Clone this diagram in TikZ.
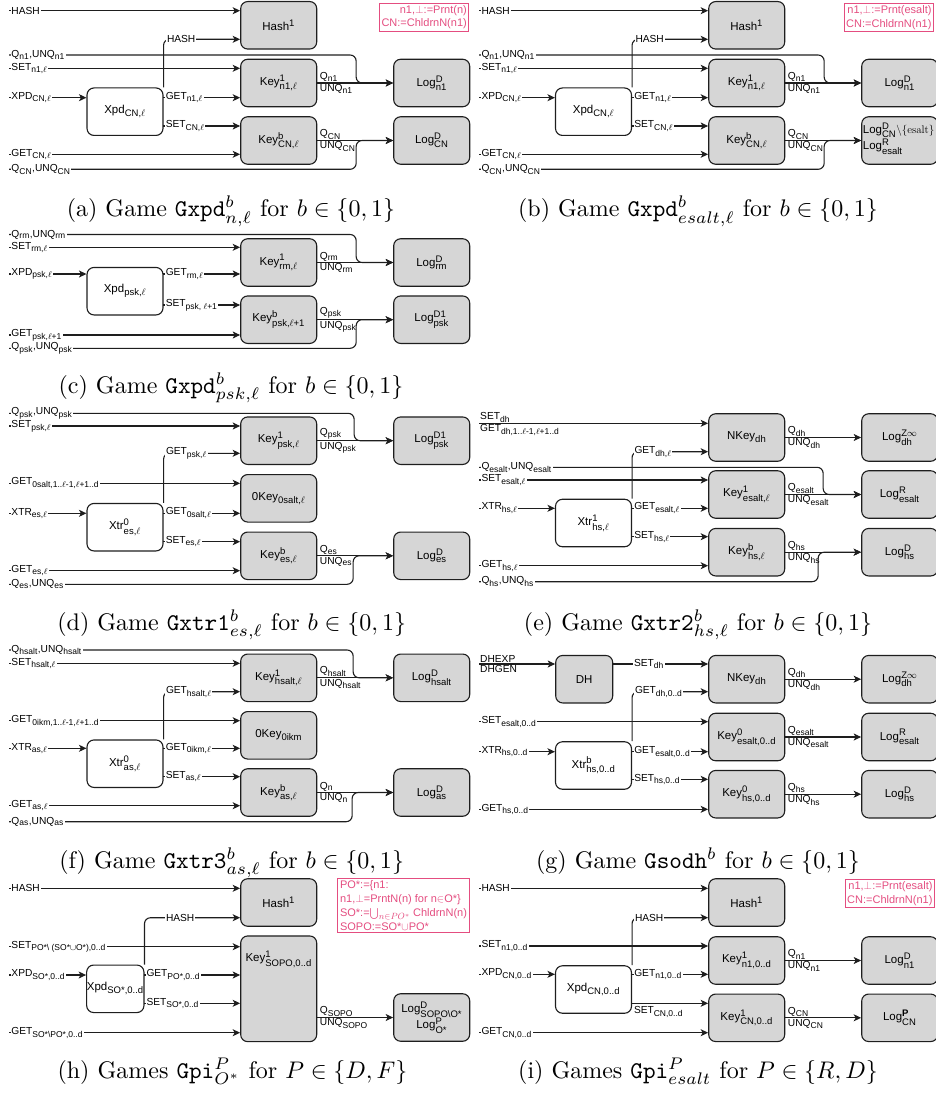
\RequirePackage{fix-cm}
\documentclass[tikz,border=0pt]{standalone}
\usepackage{amsmath}
\usepackage{fontspec}
\newfontfamily\arial{Liberation Sans}
\usetikzlibrary{arrows.meta,calc}

\definecolor{boxgray}{RGB}{214,214,214}
\definecolor{edgecol}{RGB}{30,30,30}
\definecolor{notepink}{RGB}{228,77,128}

% script sizes for the sans labels
\DeclareMathSizes{10.2}{10.2}{8.5}{7}
\DeclareMathSizes{11.5}{11.5}{9.5}{7.5}
\DeclareMathSizes{11}{11}{9}{7}

\newcommand\lblfont{\arial\fontsize{10.2}{11}\selectfont}
\newcommand\boxfont{\arial\fontsize{11.5}{13}\selectfont}
\newcommand\notefont{\arial\fontsize{11}{13.8}\selectfont}
\newcommand\captext[1]{\scalebox{2.4}{\normalsize #1}}

% sans sub/superscripts
\newcommand\lel{$\ell$}
\newcommand\sbx[1]{\ensuremath{_{\text{#1}}}}
\newcommand\spsb[2]{\ensuremath{^{\text{#1}}_{\text{#2}}}}

\tikzset{
  gbox/.style={draw=edgecol, line width=1.1pt, fill=boxgray, rounded corners=7pt,
    minimum width=76pt, minimum height=47.5pt, inner sep=0pt, font=\boxfont},
  wbox/.style={gbox, fill=white},
  conn/.style={draw=edgecol, line width=1.1pt, rounded corners=6pt,
    -{Stealth[length=7.5pt,width=7pt,inset=2pt]}},
  lbl/.style={font=\lblfont, fill=white, inner sep=0.8pt},
  olbl/.style={font=\lblfont, inner sep=1pt},
  notebox/.style={draw=notepink, text=notepink, line width=1pt, font=\notefont, inner sep=2pt},
  captxt/.style={anchor=base, inner sep=0pt}
}

% straight input arrow with a label at its start
\newcommand\inl[5]{%
  \coordinate (#1) at (#2,#3);
  \draw[conn] (#1) -- (#1 -| #4.west);
  \node[lbl, anchor=west] at ([xshift=1.5pt]#1) {#5};}
% input that bends down/up into a log box
\newcommand\curvein[6]{%
  \coordinate (#1) at (#2,#3);
  \draw[conn] (#1) -| ([xshift=-#6pt]#4.west) -- (#4.west);
  \node[lbl, anchor=west] at ([xshift=1.5pt]#1) {#5};}
% output of a box that rises along its right side
\newcommand\upl[6]{%
  \coordinate (#1) at (#3,#4);
  \draw[conn] (#2.north east) |- (#1 -| #5.west);
  \node[lbl, anchor=west] at (#1) {#6};}
% key -> log with labels above and below
\newcommand\outl[4]{%
  \draw[conn] (#1.east) -- (#2.west |- #1.east);
  \node[olbl, anchor=south west] at ([xshift=1.5pt]#1.east) {#3};
  \node[olbl, anchor=north west] at ([xshift=1.5pt]#1.east) {#4};}

\begin{document}
\begin{tikzpicture}[x=1pt,y=-1pt]
\useasboundingbox (0,0) rectangle (935,1094);

% ---------------- (a) ----------------
\node[gbox] (a-hash) at (278.7,25.3) {Hash$^{\text{1}}$};
\node[gbox] (a-key1) at (278.7,83) {Key\spsb{1}{n1,\lel}};
\node[gbox] (a-keyb) at (278.7,140.5) {Key\spsb{b}{CN,\lel}};
\node[gbox] (a-log1) at (431.7,83) {Log\spsb{D}{n1}};
\node[gbox] (a-logc) at (431.7,140.5) {Log\spsb{D}{CN}};
\node[wbox] (a-xpd) at (125,111.7) {Xpd\sbx{CN,\lel}};
\node[notebox, anchor=north east, align=right] (a-note) at (469.3,2.7) {n1,$\perp$:=Prnt(n)\\CN:=ChldrnN(n1)};
\inl{a-i1}{9}{10.7}{a-hash}{HASH}
\upl{a-u1}{a-xpd}{166}{39.3}{a-hash}{HASH}
\curvein{a-i2}{9}{55}{a-log1}{Q\sbx{n1},UNQ\sbx{n1}}{37}
\inl{a-i3}{9}{68.3}{a-key1}{SET\sbx{n1,\lel}}
\inl{a-i4}{9}{97.7}{a-xpd}{XPD\sbx{CN,\lel}}
\inl{a-m1}{163.3}{97.7}{a-key1}{GET\sbx{n1,\lel}}
\inl{a-m2}{163.3}{126}{a-keyb}{SET\sbx{CN,\lel}}
\inl{a-i5}{9}{154.3}{a-keyb}{GET\sbx{CN,\lel}}
\curvein{a-i6}{9}{169.3}{a-logc}{Q\sbx{CN},UNQ\sbx{CN}}{37}
\outl{a-key1}{a-log1}{Q\sbx{n1}}{UNQ\sbx{n1}}
\outl{a-keyb}{a-logc}{Q\sbx{CN}}{UNQ\sbx{CN}}
\node[captxt] (a-cap) at (231,216.5) {\captext{(a) Game \texttt{Gxpd}$^b_{n,\ell}$ for $b\in\{0,1\}$}};

% ---------------- (b) ----------------
\begin{scope}[shift={(468,0)}]
\node[gbox] (b-hash) at (278.7,25.3) {Hash$^{\text{1}}$};
\node[gbox] (b-key1) at (278.7,83) {Key\spsb{1}{n1,\lel}};
\node[gbox] (b-keyb) at (278.7,140.5) {Key\spsb{b}{CN,\lel}};
\node[gbox] (b-log1) at (431.7,83) {Log\spsb{D}{n1}};
\node[gbox] (b-logc) at (431.7,140.5) {};
\node[font=\boxfont, align=left, anchor=west, inner sep=0pt] (b-logct) at ([xshift=1.5pt,yshift=2pt]b-logc.west)
  {Log\spsb{D}{CN}{\normalfont\fontsize{11}{11}\selectfont$\backslash\{\mathrm{esalt}\}$}\\Log\spsb{R}{esalt}};
\node[wbox] (b-xpd) at (125.5,111.7) {Xpd\sbx{CN,\lel}};
\node[notebox, anchor=north east, align=right] (b-note) at (466,3) {n1,$\perp$:=Prnt(esalt)\\CN:=ChldrnN(n1)};
\inl{b-i1}{11}{10.7}{b-hash}{HASH}
\upl{b-u1}{b-xpd}{166.5}{39.3}{b-hash}{HASH}
\curvein{b-i2}{11}{55}{b-log1}{Q\sbx{n1},UNQ\sbx{n1}}{37}
\inl{b-i3}{11}{68.3}{b-key1}{SET\sbx{n1,\lel}}
\inl{b-i4}{11}{97.7}{b-xpd}{XPD\sbx{CN,\lel}}
\inl{b-m1}{163.8}{97.7}{b-key1}{GET\sbx{n1,\lel}}
\inl{b-m2}{163.8}{126}{b-keyb}{SET\sbx{CN,\lel}}
\inl{b-i5}{11}{154.3}{b-keyb}{GET\sbx{CN,\lel}}
\curvein{b-i6}{11}{169.3}{b-logc}{Q\sbx{CN},UNQ\sbx{CN}}{37}
\outl{b-key1}{b-log1}{Q\sbx{n1}}{UNQ\sbx{n1}}
\outl{b-keyb}{b-logc}{Q\sbx{CN}}{UNQ\sbx{CN}}
\node[captxt] (b-cap) at (230,216.5) {\captext{(b) Game \texttt{Gxpd}$^b_{esalt,\ell}$ for $b\in\{0,1\}$}};
\end{scope}

% ---------------- (c) ----------------
\node[gbox] (c-key1) at (278.7,262.5) {Key\spsb{1}{rm,\lel}};
\node[gbox] (c-keyb) at (278.7,319.7) {Key\spsb{b}{psk,\lel+1}};
\node[gbox] (c-log1) at (431.7,262.5) {Log\spsb{D}{rm}};
\node[gbox] (c-logb) at (431.7,319.7) {Log\spsb{D1}{psk}};
\node[wbox] (c-xpd) at (125,291.2) {Xpd\sbx{psk,\lel}};
\curvein{c-i1}{9}{234.5}{c-log1}{Q\sbx{rm},UNQ\sbx{rm}}{37}
\inl{c-i2}{9}{247.3}{c-key1}{SET\sbx{rm,\lel}}
\inl{c-i3}{9}{274}{c-xpd}{XPD\sbx{psk,\lel}}
\inl{c-m1}{163.3}{274}{c-key1}{GET\sbx{rm,\lel}}
\inl{c-m2}{163.3}{305}{c-keyb}{SET\sbx{psk, \lel+1}}
\inl{c-i4}{9}{335}{c-keyb}{GET\sbx{psk,\lel+1}}
\curvein{c-i5}{9}{348.3}{c-logb}{Q\sbx{psk},UNQ\sbx{psk}}{37}
\outl{c-key1}{c-log1}{Q\sbx{rm}}{UNQ\sbx{rm}}
\outl{c-keyb}{c-logb}{Q\sbx{psk}}{UNQ\sbx{psk}}
\node[captxt] (c-cap) at (231,393) {\captext{(c) Game \texttt{Gxpd}$^b_{psk,\ell}$ for $b\in\{0,1\}$}};

% ---------------- (d) ----------------
\node[gbox] (d-key1) at (278.7,440.7) {Key\spsb{1}{psk,\lel}};
\node[gbox] (d-0key) at (278.7,498.3) {0Key\sbx{0salt,\lel}};
\node[gbox] (d-keyb) at (278.7,555.8) {Key\spsb{b}{es,\lel}};
\node[gbox] (d-log1) at (431.7,440.7) {Log\spsb{D1}{psk}};
\node[gbox] (d-logb) at (431.7,555.8) {Log\spsb{D}{es}};
\node[wbox] (d-xtr) at (125,527.2) {Xtr\spsb{0}{es,\lel}};
\curvein{d-i1}{9}{413.3}{d-log1}{Q\sbx{psk},UNQ\sbx{psk}}{39}
\inl{d-i2}{9}{426}{d-key1}{SET\sbx{psk,\lel}}
\upl{d-u1}{d-xtr}{165}{453.3}{d-key1}{GET\sbx{psk,\lel}}
\inl{d-i3}{9}{483.3}{d-0key}{GET\sbx{0salt,1..\lel-1,\lel+1..d}}
\inl{d-i4}{9}{513.3}{d-xtr}{XTR\sbx{es,\lel}}
\inl{d-m1}{163.3}{513.3}{d-0key}{GET\sbx{0salt,\lel}}
\inl{d-m2}{163.3}{541.7}{d-keyb}{SET\sbx{es,\lel}}
\inl{d-i5}{9}{570.7}{d-keyb}{GET\sbx{es,\lel}}
\curvein{d-i6}{9}{584.3}{d-logb}{Q\sbx{es},UNQ\sbx{es}}{40}
\outl{d-key1}{d-log1}{Q\sbx{psk}}{UNQ\sbx{psk}}
\outl{d-keyb}{d-logb}{Q\sbx{es}}{UNQ\sbx{es}}
\node[captxt] (d-cap) at (231.7,630) {\captext{(d) Game \texttt{Gxtr1}$^b_{es,\ell}$ for $b\in\{0,1\}$}};

% ---------------- (e) ----------------
\begin{scope}[shift={(468,0)}]
\node[gbox] (e-nkey) at (278.7,437.5) {NKey\sbx{dh}};
\node[gbox] (e-key1) at (278.7,494.5) {Key\spsb{1}{esalt,\lel}};
\node[gbox] (e-keyb) at (278.7,552.2) {Key\spsb{b}{hs,\lel}};
\node[gbox] (e-logz) at (431.7,437.5) {Log\spsb{Z$\infty$}{dh}};
\node[gbox] (e-logr) at (431.7,494.5) {Log\spsb{R}{esalt}};
\node[gbox] (e-logd) at (431.7,552.2) {Log\spsb{D}{hs}};
\node[wbox] (e-xtr) at (125.5,523) {Xtr\spsb{1}{hs,\lel}};
\coordinate (e-i0) at (11,423.3);
\draw[conn] (e-i0) -- (e-i0 -| e-nkey.west);
\node[olbl, anchor=south west] at (e-i0) {SET\sbx{dh}};
\node[olbl, anchor=north west] at (e-i0) {GET\sbx{dh,1..\lel-1,\lel+1..d}};
\upl{e-u1}{e-xtr}{165.5}{451.7}{e-nkey}{GET\sbx{dh,\lel}}
\curvein{e-i1}{11}{467.3}{e-logr}{Q\sbx{esalt},UNQ\sbx{esalt}}{38}
\inl{e-i2}{11}{480}{e-key1}{SET\sbx{esalt,\lel}}
\inl{e-i3}{11}{508.3}{e-xtr}{XTR\sbx{hs,\lel}}
\inl{e-m1}{163.8}{508.3}{e-key1}{GET\sbx{esalt,\lel}}
\inl{e-m2}{163.8}{536.7}{e-keyb}{SET\sbx{hs,\lel}}
\inl{e-i4}{11}{565.7}{e-keyb}{GET\sbx{hs,\lel}}
\curvein{e-i5}{11}{581.7}{e-logd}{Q\sbx{hs},UNQ\sbx{hs}}{43}
\outl{e-nkey}{e-logz}{Q\sbx{dh}}{UNQ\sbx{dh}}
\outl{e-key1}{e-logr}{Q\sbx{esalt}}{UNQ\sbx{esalt}}
\outl{e-keyb}{e-logd}{Q\sbx{hs}}{UNQ\sbx{hs}}
\node[captxt] (e-cap) at (230,630) {\captext{(e) Game \texttt{Gxtr2}$^b_{hs,\ell}$ for $b\in\{0,1\}$}};
\end{scope}

% ---------------- (f) ----------------
\node[gbox] (f-key1) at (278.7,677.8) {Key\spsb{1}{hsalt,\lel}};
\node[gbox] (f-0key) at (278.7,735.3) {0Key\sbx{0ikm}};
\node[gbox] (f-keyb) at (278.7,792.5) {Key\spsb{b}{as,\lel}};
\node[gbox] (f-log1) at (431.7,677.8) {Log\spsb{D}{hsalt}};
\node[gbox] (f-logb) at (431.7,792.5) {Log\spsb{D}{as}};
\node[wbox] (f-xtr) at (125,763.7) {Xtr\spsb{0}{as,\lel}};
\curvein{f-i1}{9}{650}{f-log1}{Q\sbx{hsalt},UNQ\sbx{hsalt}}{40}
\inl{f-i2}{9}{663.3}{f-key1}{SET\sbx{hsalt,\lel}}
\upl{f-u1}{f-xtr}{165}{691.7}{f-key1}{GET\sbx{hsalt,\lel}}
\inl{f-i3}{9}{720.7}{f-0key}{GET\sbx{0ikm,1..\lel-1,\lel+1..d}}
\inl{f-i4}{9}{748.3}{f-xtr}{XTR\sbx{as,\lel}}
\inl{f-m1}{163.3}{748.3}{f-0key}{GET\sbx{0ikm,\lel}}
\inl{f-m2}{163.3}{776.7}{f-keyb}{SET\sbx{as,\lel}}
\inl{f-i5}{9}{805.7}{f-keyb}{GET\sbx{as,\lel}}
\curvein{f-i6}{9}{821.7}{f-logb}{Q\sbx{as},UNQ\sbx{as}}{41}
\outl{f-key1}{f-log1}{Q\sbx{hsalt}}{UNQ\sbx{hsalt}}
\outl{f-keyb}{f-logb}{Q\sbx{n}}{UNQ\sbx{n}}
\node[captxt] (f-cap) at (231.7,868) {\captext{(f) Game \texttt{Gxtr3}$^b_{as,\ell}$ for $b\in\{0,1\}$}};

% ---------------- (g) ----------------
\begin{scope}[shift={(468,0)}]
\node[gbox, minimum width=57pt] (g-dh) at (116.2,679.2) {DH};
\node[gbox] (g-nkey) at (278.7,679.2) {NKey\sbx{dh}};
\node[gbox] (g-key0e) at (278.7,737) {Key\spsb{0}{esalt,0..d}};
\node[gbox] (g-key0h) at (278.7,794.2) {Key\spsb{0}{hs,0..d}};
\node[gbox] (g-logz) at (431.7,679.2) {Log\spsb{Z$\infty$}{dh}};
\node[gbox] (g-logr) at (431.7,737) {Log\spsb{R}{esalt}};
\node[gbox] (g-logd) at (431.7,794.2) {Log\spsb{D}{hs}};
\node[wbox] (g-xtr) at (125.5,765.5) {Xtr\spsb{b}{hs,0..d}};
\coordinate (g-i0) at (11,664);
\draw[conn] (g-i0) -- (g-i0 -| g-dh.west);
\node[olbl, anchor=south west] at (g-i0) {DHEXP};
\node[olbl, anchor=north west] at (g-i0) {DHGEN};
\draw[conn] (g-dh.east |- g-i0) -- (g-nkey.west |- g-i0);
\node[lbl, anchor=west] (g-sdh) at (165,664) {SET\sbx{dh}};
\upl{g-u1}{g-xtr}{166}{691.7}{g-nkey}{GET\sbx{dh,0..d}}
\inl{g-i1}{11}{721.7}{g-key0e}{SET\sbx{esalt,0..d}}
\inl{g-i2}{11}{751.7}{g-xtr}{XTR\sbx{hs,0..d}}
\inl{g-m1}{163.8}{751.7}{g-key0e}{GET\sbx{esalt,0..d}}
\inl{g-m2}{163.8}{779.3}{g-key0h}{SET\sbx{hs,0..d}}
\inl{g-i3}{11}{809.3}{g-key0h}{GET\sbx{hs,0..d}}
\outl{g-nkey}{g-logz}{Q\sbx{dh}}{UNQ\sbx{dh}}
\outl{g-key0e}{g-logr}{Q\sbx{esalt}}{UNQ\sbx{esalt}}
\outl{g-key0h}{g-logd}{Q\sbx{hs}}{UNQ\sbx{hs}}
\node[captxt] (g-cap) at (230,868) {\captext{(g) Game \texttt{Gsodh}$^b$ for $b\in\{0,1\}$}};
\end{scope}

% ---------------- (h) ----------------
\node[gbox] (h-hash) at (278.7,902.5) {Hash$^{\text{1}}$};
\node[gbox, minimum height=105.7pt] (h-key) at (278.7,988.8) {};
\node[font=\boxfont, inner sep=0pt] (h-keyt) at (278.7,959) {Key\spsb{1}{SOPO,0..d}};
\node[gbox] (h-log) at (431.7,1017.5) {};
\node[font=\boxfont, align=center, inner sep=0pt] (h-logt) at (h-log) {Log\spsb{D}{SOPO\textbackslash O*}\\Log\spsb{P}{O*}};
\node[wbox, minimum width=57.3pt] (h-xpd) at (115.3,988.8) {};
\node[font=\boxfont, inner sep=0pt] (h-xpdt) at (h-xpd) {Xpd\sbx{SO*,0..d}};
\node[notebox, anchor=north west, align=left, minimum width=132.6pt] (h-note) at (336.7,878.3)
  {PO*:=\{n1:\\n1,$\perp$=PrntN(n) for n$\in$O*\}\\SO*:=$\bigcup_{n\in PO^*}$ ChldrnN(n)\\SOPO:=SO*$\cup$PO*};
\inl{h-i1}{9}{888.3}{h-hash}{HASH}
\upl{h-u1}{h-xpd}{165}{917.7}{h-hash}{HASH}
\inl{h-i2}{9}{946.7}{h-key}{SET\sbx{PO*\textbackslash\ (SO*$\cup$O*),0..d}}
\inl{h-i3}{9}{975}{h-xpd}{XPD\sbx{SO*,0..d}}
\inl{h-m1}{144}{975}{h-key}{GET\sbx{PO*,0..d}}
\inl{h-m2}{144}{1003.3}{h-key}{SET\sbx{SO*,0..d}}
\inl{h-i4}{9}{1032.7}{h-key}{GET\sbx{SO*\textbackslash PO*,0..d}}
\coordinate (h-o) at (h-key.east |- h-log.west);
\draw[conn] (h-o) -- (h-log.west);
\node[olbl, anchor=south west] at ([xshift=1.5pt]h-o) {Q\sbx{SOPO}};
\node[olbl, anchor=north west] at ([xshift=1.5pt]h-o) {UNQ\sbx{SOPO}};
\node[captxt] (h-cap) at (232.5,1078) {\captext{(h) Games \texttt{Gpi}$^P_{O^*}$ for $P\in\{D,F\}$}};

% ---------------- (i) ----------------
\begin{scope}[shift={(468,0)}]
\node[gbox] (i-hash) at (278.7,902.5) {Hash$^{\text{1}}$};
\node[gbox] (i-key1) at (278.7,960.5) {Key\spsb{1}{n1,0..d}};
\node[gbox] (i-keyc) at (278.7,1017.8) {Key\spsb{1}{CN,0..d}};
\node[gbox] (i-log1) at (431.7,960.5) {Log\spsb{D}{n1}};
\node[gbox] (i-logp) at (431.7,1017.8) {Log\spsb{\textbf{P}}{CN}};
\node[wbox] (i-xpd) at (125.5,989.5) {Xpd\sbx{CN,0..d}};
\node[notebox, anchor=north east, align=right] (i-note) at (467,879.3) {n1,$\perp$:=Prnt(esalt)\\CN:=ChldrnN(n1)};
\inl{i-i1}{11}{888.3}{i-hash}{HASH}
\upl{i-u1}{i-xpd}{166}{917.7}{i-hash}{HASH}
\inl{i-i2}{11}{946}{i-key1}{SET\sbx{n1,0..d}}
\inl{i-i3}{11}{974.3}{i-xpd}{XPD\sbx{CN,0..d}}
\inl{i-m1}{163.8}{974.3}{i-key1}{GET\sbx{n1,0..d}}
\coordinate (i-m2) at (163.8,1003.3);
\draw[conn] (i-m2) -- (i-m2 -| i-keyc.west);
\node[olbl, anchor=north west] at ([xshift=1pt,yshift=-2pt]i-m2) {SET\sbx{CN,0..d}};
\inl{i-i4}{11}{1032.7}{i-keyc}{GET\sbx{CN,0..d}}
\outl{i-key1}{i-log1}{Q\sbx{n1}}{UNQ\sbx{n1}}
\outl{i-keyc}{i-logp}{Q\sbx{CN}}{UNQ\sbx{CN}}
\node[captxt] (i-cap) at (230,1078) {\captext{(i) Games \texttt{Gpi}$^P_{esalt}$ for $P\in\{R,D\}$}};
\end{scope}

\end{tikzpicture}
\end{document}
